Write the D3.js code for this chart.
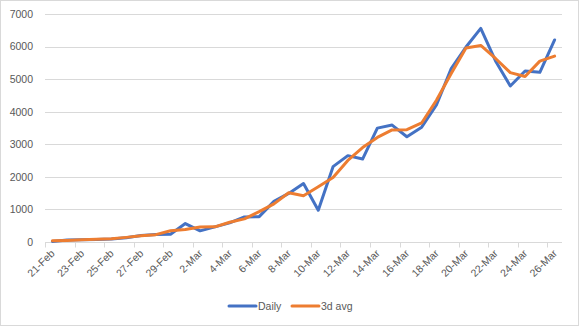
<!DOCTYPE html>
<html>
<head>
<meta charset="utf-8">
<script src="https://cdn.jsdelivr.net/npm/d3@7/dist/d3.min.js"></script>
<style>
  html, body { margin: 0; padding: 0; background: #fff; }
  svg { display: block; }
  text { font-family: "Liberation Sans", Arial, sans-serif; fill: #595959; }
</style>
</head>
<body>
<script>
// Daily new cases and their 3-day moving average, 21 Feb – 26 Mar
const dates = [
  "21-Feb","22-Feb","23-Feb","24-Feb","25-Feb","26-Feb","27-Feb","28-Feb","29-Feb",
  "1-Mar","2-Mar","3-Mar","4-Mar","5-Mar","6-Mar","7-Mar","8-Mar","9-Mar","10-Mar",
  "11-Mar","12-Mar","13-Mar","14-Mar","15-Mar","16-Mar","17-Mar","18-Mar","19-Mar",
  "20-Mar","21-Mar","22-Mar","23-Mar","24-Mar","25-Mar","26-Mar"
];
const daily = [
  17, 59, 71, 79, 93, 131, 202, 233, 240,
  566, 342, 466, 587, 769, 778, 1247, 1492, 1797, 977,
  2313, 2651, 2547, 3497, 3590, 3233, 3526, 4207, 5322,
  5986, 6557, 5560, 4789, 5249, 5210, 6203
];
const avg3d = [
  38, 49, 70, 81, 101, 142, 189, 225, 346,
  383, 458, 465, 607, 711, 931, 1172, 1512, 1422, 1696,
  1980, 2504, 2898, 3211, 3440, 3450, 3655, 4352, 5172,
  5955, 6034, 5635, 5199, 5083, 5554, 5706
];
const yTicks = [0, 1000, 2000, 3000, 4000, 5000, 6000, 7000];
const seriesNames = ["Daily", "3d avg"];
const seriesColors = ["#4472C4", "#ED7D31"];

const W = 579, H = 326;
const plotLeft = 45, plotRight = 562, plotTop = 14, plotBottom = 242;

const svg = d3.select("body").append("svg").attr("width", W).attr("height", H);

// chart area border
svg.append("rect").attr("x", 0.5).attr("y", 0.5)
  .attr("width", W - 1).attr("height", H - 1)
  .attr("fill", "#fff").attr("stroke", "#D9D9D9");

const x = d3.scaleBand().domain(dates).range([plotLeft, plotRight]).paddingInner(0).paddingOuter(0);
const y = d3.scaleLinear().domain([0, 7000]).range([plotBottom, plotTop]);
const cx = d => x(d) + x.bandwidth() / 2;

// horizontal gridlines
svg.append("g").selectAll("line").data(yTicks.slice(1)).join("line")
  .attr("x1", plotLeft).attr("x2", plotRight)
  .attr("y1", d => Math.round(y(d)) + 0.5).attr("y2", d => Math.round(y(d)) + 0.5)
  .attr("stroke", "#D9D9D9").attr("stroke-width", 1);

// y axis labels
const yAxis = d3.axisLeft(y).tickValues(yTicks).tickFormat(d3.format("d")).tickSize(0).tickPadding(0);
const gy = svg.append("g").attr("transform", `translate(${plotLeft - 12},0)`).call(yAxis);
gy.select(".domain").remove();
gy.selectAll("text").attr("font-size", "10.5px").attr("fill", "#595959")
  .attr("font-family", "Liberation Sans, Arial, sans-serif");

// x axis line and tick marks between every second category
const bx = Math.round(plotBottom) + 0.5;
svg.append("line").attr("x1", plotLeft).attr("x2", plotRight).attr("y1", bx).attr("y2", bx)
  .attr("stroke", "#D9D9D9");
const tickDates = dates.filter((d, i) => i % 2 === 0);
svg.append("g").selectAll("line").data(tickDates).join("line")
  .attr("x1", d => Math.round(x(d)) + 0.5).attr("x2", d => Math.round(x(d)) + 0.5)
  .attr("y1", bx).attr("y2", bx + 5)
  .attr("stroke", "#D9D9D9");

// rotated category labels
svg.append("g").selectAll("text").data(tickDates).join("text")
  .attr("transform", d => `translate(${cx(d) + 3},${plotBottom + 12}) rotate(-45)`)
  .attr("text-anchor", "end")
  .attr("font-size", "10.5px")
  .text(d => d);

// series lines
const line = d3.line().x((v, i) => cx(dates[i])).y(v => y(v));
[daily, avg3d].forEach((vals, k) => {
  svg.append("path").datum(vals)
    .attr("d", line)
    .attr("fill", "none")
    .attr("stroke", seriesColors[k])
    .attr("stroke-width", 3)
    .attr("stroke-linejoin", "round")
    .attr("stroke-linecap", "round");
});

// legend
const legendY = 306;
const legendX = [229, 292];
seriesNames.forEach((name, k) => {
  const g = svg.append("g");
  g.append("line")
    .attr("x1", legendX[k]).attr("x2", legendX[k] + 27)
    .attr("y1", legendY).attr("y2", legendY)
    .attr("stroke", seriesColors[k]).attr("stroke-width", 3)
    .attr("stroke-linecap", "round");
  g.append("text")
    .attr("x", legendX[k] + 29).attr("y", legendY + 4)
    .attr("font-size", "10.5px")
    .text(name);
});
</script>
</body>
</html>
